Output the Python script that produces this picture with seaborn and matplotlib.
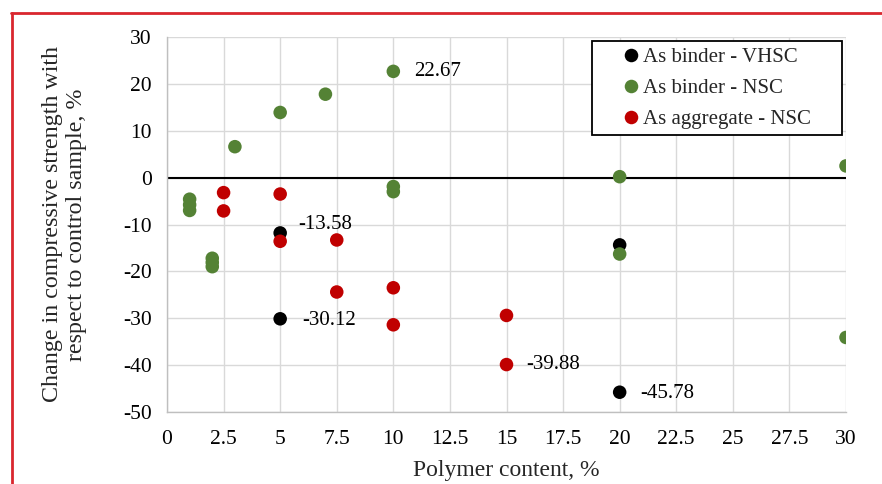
import matplotlib
matplotlib.use("Agg")
import matplotlib.pyplot as plt
from matplotlib.lines import Line2D
import numpy as np
import pandas as pd
import seaborn as sns

# Polymer content (%) and change in compressive strength (%) for each group
vhsc_x = [5, 5, 20, 20]
vhsc_y = [-11.8, -30.12, -14.35, -45.78]

binder_x = [1, 1, 1, 2, 2, 2, 3, 5, 7, 10, 10, 10, 20, 20, 30, 30]
binder_y = [-4.6, -5.8, -7.0, -17.2, -18.1, -19.0, 6.6, 13.9, 17.8, 22.67,
            -1.9, -3.0, 0.2, -16.3, 2.5, -34.1]

aggr_x = [2.5, 2.5, 5, 5, 7.5, 7.5, 10, 10, 15, 15]
aggr_y = [-3.2, -7.1, -3.5, -13.58, -13.3, -24.4, -23.5, -31.4, -29.4, -39.88]

series_names = ["As binder - VHSC", "As binder - NSC", "As aggregate - NSC"]
series_colors = ["#000000", "#548235", "#C00000"]

x_ticks = [0, 2.5, 5, 7.5, 10, 12.5, 15, 17.5, 20, 22.5, 25, 27.5, 30]
x_tick_labels = ["0", "2.5", "5", "7.5", "10", "12.5", "15", "17.5", "20",
                 "22.5", "25", "27.5", "30"]
y_ticks = [-50, -40, -30, -20, -10, 0, 10, 20, 30]

# Values written next to their points: (series index, x, y, dx px, dy px)
labelled = [
    (1, 10, 22.67, 21, 0),
    (2, 5, -13.58, 18, 17),
    (0, 5, -30.12, 22, -2),
    (2, 15, -39.88, 20, 0),
    (0, 20, -45.78, 21, -1),
]

df = pd.concat([
    pd.DataFrame({"x": vhsc_x, "y": vhsc_y, "series": series_names[0]}),
    pd.DataFrame({"x": binder_x, "y": binder_y, "series": series_names[1]}),
    pd.DataFrame({"x": aggr_x, "y": aggr_y, "series": series_names[2]}),
], ignore_index=True)

sns.set_theme(style="white")
plt.rcParams["font.family"] = ["Liberation Serif", "DejaVu Serif"]
plt.rcParams["axes.unicode_minus"] = False

fig = plt.figure(figsize=(8.82, 4.84), dpi=100)
ax = fig.add_axes([167 / 882, 1 - 412 / 484, (846 - 167) / 882, (412 - 37) / 484])

ax.set_xlim(0, 30)
ax.set_ylim(-50, 30)
ax.set_xticks(x_ticks)
ax.set_xticklabels(x_tick_labels)
ax.set_yticks(y_ticks)
ax.set_yticklabels([str(v) for v in y_ticks])
ax.grid(True, color="#d9d9d9", linewidth=1.0)
ax.set_axisbelow(True)
for side in ["top", "right"]:
    ax.spines[side].set_visible(False)
for side in ["left", "bottom"]:
    ax.spines[side].set_color("#bfbfbf")
    ax.spines[side].set_linewidth(1.0)
ax.tick_params(axis="both", length=0, labelsize=15.5, colors="black")
ax.tick_params(axis="x", pad=13)
ax.tick_params(axis="y", pad=11)

ax.axhline(0, color="black", linewidth=1.5, zorder=2)

sns.scatterplot(data=df, x="x", y="y", hue="series", hue_order=series_names,
                palette=series_colors, s=95, edgecolor="none", linewidth=0,
                ax=ax, zorder=3, legend=True)

for si, xv, yv, dx, dy in labelled:
    ax.annotate(f"{yv:.2f}", xy=(xv, yv), xytext=(dx, dy),
                textcoords="offset pixels", ha="left", va="center",
                fontsize=15, color="black", zorder=4)

ax.set_xlabel("Polymer content, %", fontsize=17, labelpad=8)
ax.set_ylabel("Change in compressive strength with\nrespect to control sample, %",
              fontsize=17.3, labelpad=26, linespacing=1.2)

x0 = (592 - 167) / 679
y1 = (412 - 41) / 375
w = (842 - 592) / 679
leg = ax.legend(loc="upper left", bbox_to_anchor=(x0, y1 - 0.3, w, 0.3),
                mode="expand", frameon=True, fancybox=False, framealpha=1,
                edgecolor="black", fontsize=15, borderpad=0.3,
                handlelength=3.1, handletextpad=-0.95, labelspacing=0.55,
                borderaxespad=0, title=None)
leg.get_frame().set_linewidth(1.3)
leg.set_zorder(5)

# Red frame around the figure (extends past right and bottom edges)
fig.add_artist(Line2D([11.5 / 882, 11.5 / 882], [0, 1 - 12.5 / 484],
                      transform=fig.transFigure, color="#d9262e", linewidth=2))
fig.add_artist(Line2D([10.5 / 882, 1], [1 - 12.5 / 484, 1 - 12.5 / 484],
                      transform=fig.transFigure, color="#d9262e", linewidth=2))

fig.savefig("out.png", dpi=100, facecolor="white")
